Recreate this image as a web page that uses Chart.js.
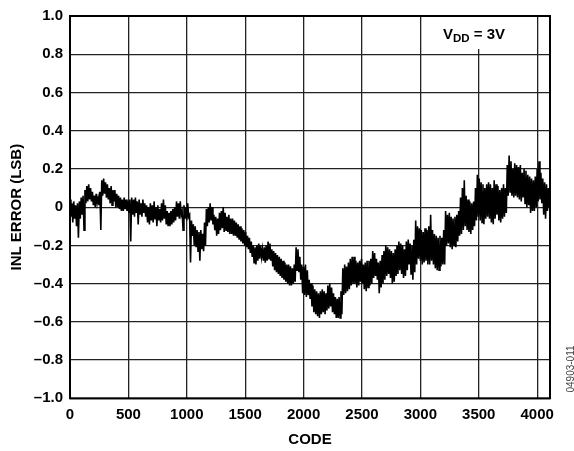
<!DOCTYPE html>
<html>
<head>
<meta charset="utf-8">
<script src="https://cdn.jsdelivr.net/npm/chart.js@4/dist/chart.umd.min.js"></script>
<style>
  html, body { margin:0; padding:0; background:#fff; }
  #wrap { width:574px; height:451px; position:relative; }
</style>
</head>
<body>
<div id="wrap"><canvas id="inl"></canvas></div>
<script>
// INL error (LSB): top and bottom of the noisy trace, every 16 codes
const codeStep = 16;
const inlHi = [
   0.04, 0.02, 0.03, 0.01, 0.02, 0.03, 0.05, 0.06,
   0.09, 0.11, 0.12, 0.10, 0.08, 0.06, 0.07, 0.05,
   0.08, 0.14, 0.15, 0.13, 0.12, 0.10, 0.11, 0.09,
   0.09, 0.07, 0.06, 0.05, 0.04, 0.05, 0.04, 0.03,
   0.04, 0.05, 0.04, 0.05, 0.03, 0.04, 0.02, 0.04,
   0.02, 0.01, 0.00, 0.02, 0.01, 0.03, 0.00, 0.01,
  -0.01, 0.02, 0.04, 0.01,-0.02,-0.03,-0.02,-0.01,
   0.00, 0.03, 0.02, 0.03,-0.02, 0.01, 0.00, 0.02,
  -0.04,-0.07,-0.09,-0.10,-0.12,-0.13,-0.12,-0.14,
  -0.08,-0.01, 0.00, 0.02, 0.00,-0.04,-0.05,-0.06,
  -0.03,-0.02, 0.00,-0.03,-0.05,-0.04,-0.06,-0.06,
  -0.07,-0.08,-0.09,-0.10,-0.11,-0.12,-0.13,-0.15,
  -0.16,-0.18,-0.20,-0.21,-0.20,-0.19,-0.20,-0.22,
  -0.21,-0.20,-0.18,-0.19,-0.22,-0.23,-0.24,-0.25,
  -0.26,-0.27,-0.28,-0.29,-0.30,-0.30,-0.31,-0.32,
  -0.30,-0.21,-0.22,-0.26,-0.30,-0.31,-0.30,-0.33,
  -0.38,-0.40,-0.41,-0.43,-0.44,-0.45,-0.44,-0.43,
  -0.44,-0.45,-0.41,-0.40,-0.42,-0.45,-0.47,-0.48,
  -0.47,-0.44,-0.32,-0.30,-0.31,-0.29,-0.27,-0.26,
  -0.26,-0.28,-0.29,-0.28,-0.27,-0.30,-0.29,-0.28,
  -0.28,-0.27,-0.23,-0.24,-0.27,-0.29,-0.28,-0.25,
  -0.23,-0.20,-0.21,-0.22,-0.23,-0.24,-0.22,-0.20,
  -0.18,-0.19,-0.20,-0.22,-0.18,-0.17,-0.19,-0.20,
  -0.17,-0.07,-0.10,-0.11,-0.12,-0.13,-0.11,-0.12,
  -0.10,-0.04,-0.12,-0.14,-0.15,-0.16,-0.15,-0.16,
  -0.12,-0.02,-0.04,-0.03,-0.05,-0.06,-0.05,-0.04,
  -0.02, 0.05, 0.10, 0.14, 0.06, 0.04, 0.03, 0.02,
   0.03, 0.10, 0.17, 0.15, 0.13, 0.12, 0.10, 0.12,
   0.13, 0.12, 0.10, 0.14, 0.12, 0.11, 0.09, 0.10,
   0.12, 0.10, 0.22, 0.27, 0.24, 0.20, 0.23, 0.22,
   0.21, 0.22, 0.18, 0.20, 0.19, 0.17, 0.16, 0.15,
   0.14, 0.16, 0.20, 0.24, 0.18, 0.15, 0.13, 0.12,
   0.10
];
const inlLo = [
  -0.05,-0.08,-0.06,-0.10,-0.16,-0.06,-0.04,-0.12,
   0.02, 0.03, 0.04, 0.03, 0.01, 0.00, 0.02, 0.01,
  -0.12, 0.06, 0.07, 0.05, 0.04, 0.02, 0.01, 0.03,
   0.00, 0.00,-0.01,-0.02,-0.02,-0.01,-0.02,-0.03,
  -0.18,-0.04,-0.05,-0.03,-0.09,-0.04,-0.05,-0.03,
  -0.05,-0.08,-0.09,-0.07,-0.08,-0.06,-0.10,-0.07,
  -0.08,-0.07,-0.06,-0.09,-0.10,-0.10,-0.09,-0.08,
  -0.07,-0.05,-0.06,-0.04,-0.12,-0.06,-0.07,-0.05,
  -0.29,-0.15,-0.20,-0.21,-0.23,-0.28,-0.22,-0.23,
  -0.20,-0.10,-0.08,-0.07,-0.09,-0.12,-0.15,-0.14,
  -0.12,-0.11,-0.13,-0.12,-0.13,-0.14,-0.14,-0.15,
  -0.15,-0.16,-0.17,-0.18,-0.19,-0.20,-0.21,-0.22,
  -0.24,-0.26,-0.29,-0.30,-0.28,-0.27,-0.26,-0.28,
  -0.29,-0.28,-0.27,-0.28,-0.31,-0.33,-0.34,-0.35,
  -0.36,-0.37,-0.38,-0.39,-0.40,-0.41,-0.41,-0.40,
  -0.39,-0.33,-0.34,-0.38,-0.45,-0.46,-0.47,-0.46,
  -0.48,-0.52,-0.55,-0.56,-0.57,-0.58,-0.56,-0.55,
  -0.56,-0.54,-0.53,-0.52,-0.55,-0.56,-0.58,-0.58,
  -0.58,-0.56,-0.46,-0.45,-0.44,-0.43,-0.41,-0.40,
  -0.40,-0.42,-0.41,-0.39,-0.40,-0.43,-0.44,-0.42,
  -0.41,-0.40,-0.37,-0.36,-0.38,-0.45,-0.42,-0.40,
  -0.38,-0.36,-0.35,-0.37,-0.40,-0.39,-0.36,-0.35,
  -0.33,-0.35,-0.37,-0.36,-0.33,-0.30,-0.35,-0.38,
  -0.34,-0.30,-0.27,-0.28,-0.30,-0.29,-0.28,-0.30,
  -0.30,-0.28,-0.30,-0.32,-0.33,-0.33,-0.31,-0.30,
  -0.30,-0.20,-0.19,-0.21,-0.22,-0.20,-0.21,-0.18,
  -0.15,-0.14,-0.12,-0.10,-0.12,-0.13,-0.14,-0.12,
  -0.10,-0.07,-0.05,-0.07,-0.08,-0.09,-0.06,-0.05,
  -0.06,-0.08,-0.09,-0.06,-0.04,-0.07,-0.08,-0.06,
  -0.05,-0.03, 0.06, 0.08, 0.06, 0.05, 0.06, 0.05,
   0.04, 0.03, 0.05, 0.02, 0.00, 0.01,-0.03,-0.02,
  -0.02, 0.00, 0.03, 0.04, 0.02,-0.04,-0.06,-0.02,
   0.00
];
const codes = inlHi.map((_, i) => i * codeStep);
const xTicks = [0, 500, 1000, 1500, 2000, 2500, 3000, 3500, 4000];
const yTicks = [-1, -0.8, -0.6, -0.4, -0.2, 0, 0.2, 0.4, 0.6, 0.8, 1];
const noteMain = 'V', noteSub = 'DD', noteRest = ' = 3V';
const figId = '04903-011';

const FONT = "'Liberation Sans', Arial, sans-serif";
const tickFont = { family: FONT, size: 15, weight: 'bold' };

// trace alternates top/bottom readings half a step apart, like the raw code-by-code sweep
const trace = [];
codes.forEach((c, i) => {
  trace.push({ x: c, y: inlHi[i] });
  trace.push({ x: c + codeStep / 2, y: inlLo[i] });
});

const frame = {
  id: 'frame',
  afterDraw(c){
    const {ctx, chartArea:a} = c;
    ctx.save();
    ctx.strokeStyle = '#000'; ctx.lineWidth = 2;
    ctx.strokeRect(a.left, a.top, a.right - a.left, a.bottom - a.top);
    // V_DD label with white backing
    ctx.fillStyle = '#fff';
    ctx.fillRect(440, 17, 85, 32);
    ctx.fillStyle = '#000';
    ctx.textBaseline = 'alphabetic';
    let x = 443;
    ctx.font = "bold 15px " + FONT; ctx.fillText(noteMain, x, 38.5); x += ctx.measureText(noteMain).width;
    ctx.font = "bold 11.5px " + FONT; ctx.fillText(noteSub, x, 42); x += ctx.measureText(noteSub).width;
    ctx.font = "bold 15px " + FONT; ctx.fillText(noteRest, x, 38.5);
    // figure id
    ctx.translate(571, 369); ctx.rotate(-Math.PI/2);
    ctx.font = "10px " + FONT; ctx.fillStyle = '#444';
    ctx.textAlign = 'center'; ctx.textBaseline = 'middle';
    ctx.fillText(figId, 0, 0);
    ctx.restore();
  }
};

new Chart(document.getElementById('inl'), {
  type: 'line',
  data: {
    datasets: [{
      data: trace,
      borderColor: '#000', borderWidth: 1.6,
      pointRadius: 0, tension: 0, fill: false
    }]
  },
  options: {
    responsive: true, maintainAspectRatio: false, animation: false,
    layout: { padding: { top: 14.7, right: 24, left: 0, bottom: 0 } },
    plugins: { legend: { display: false }, tooltip: { enabled: false } },
    scales: {
      x: {
        type: 'linear', min: 0, max: 4110,
        afterBuildTicks: s => { s.ticks = xTicks.map(v => ({ value: v })); },
        afterFit: s => { s.height = 52.7; },
        grid: { color: '#222', lineWidth: 1.3, drawTicks: false },
        border: { display: false },
        ticks: { color: '#000', font: tickFont, padding: 8, maxRotation: 0, callback: v => String(v) },
        title: { display: true, text: 'CODE', color: '#000', font: tickFont, padding: { top: 0, bottom: 2 } }
      },
      y: {
        min: -1, max: 1,
        afterBuildTicks: s => { s.ticks = yTicks.map(v => ({ value: v })); },
        afterFit: s => { s.width = 70; },
        grid: { color: '#222', lineWidth: 1.3, drawTicks: false },
        border: { display: false },
        ticks: {
          color: '#000', font: tickFont, padding: 7,
          callback: v => Math.abs(v) < 1e-9 ? '0' : (v < 0 ? '\u2013' : '') + Math.abs(v).toFixed(1)
        },
        title: { display: true, text: 'INL ERROR (LSB)', color: '#000', font: tickFont, padding: { top: 8, bottom: 0 } }
      }
    }
  },
  plugins: [frame]
});
</script>
</body>
</html>
